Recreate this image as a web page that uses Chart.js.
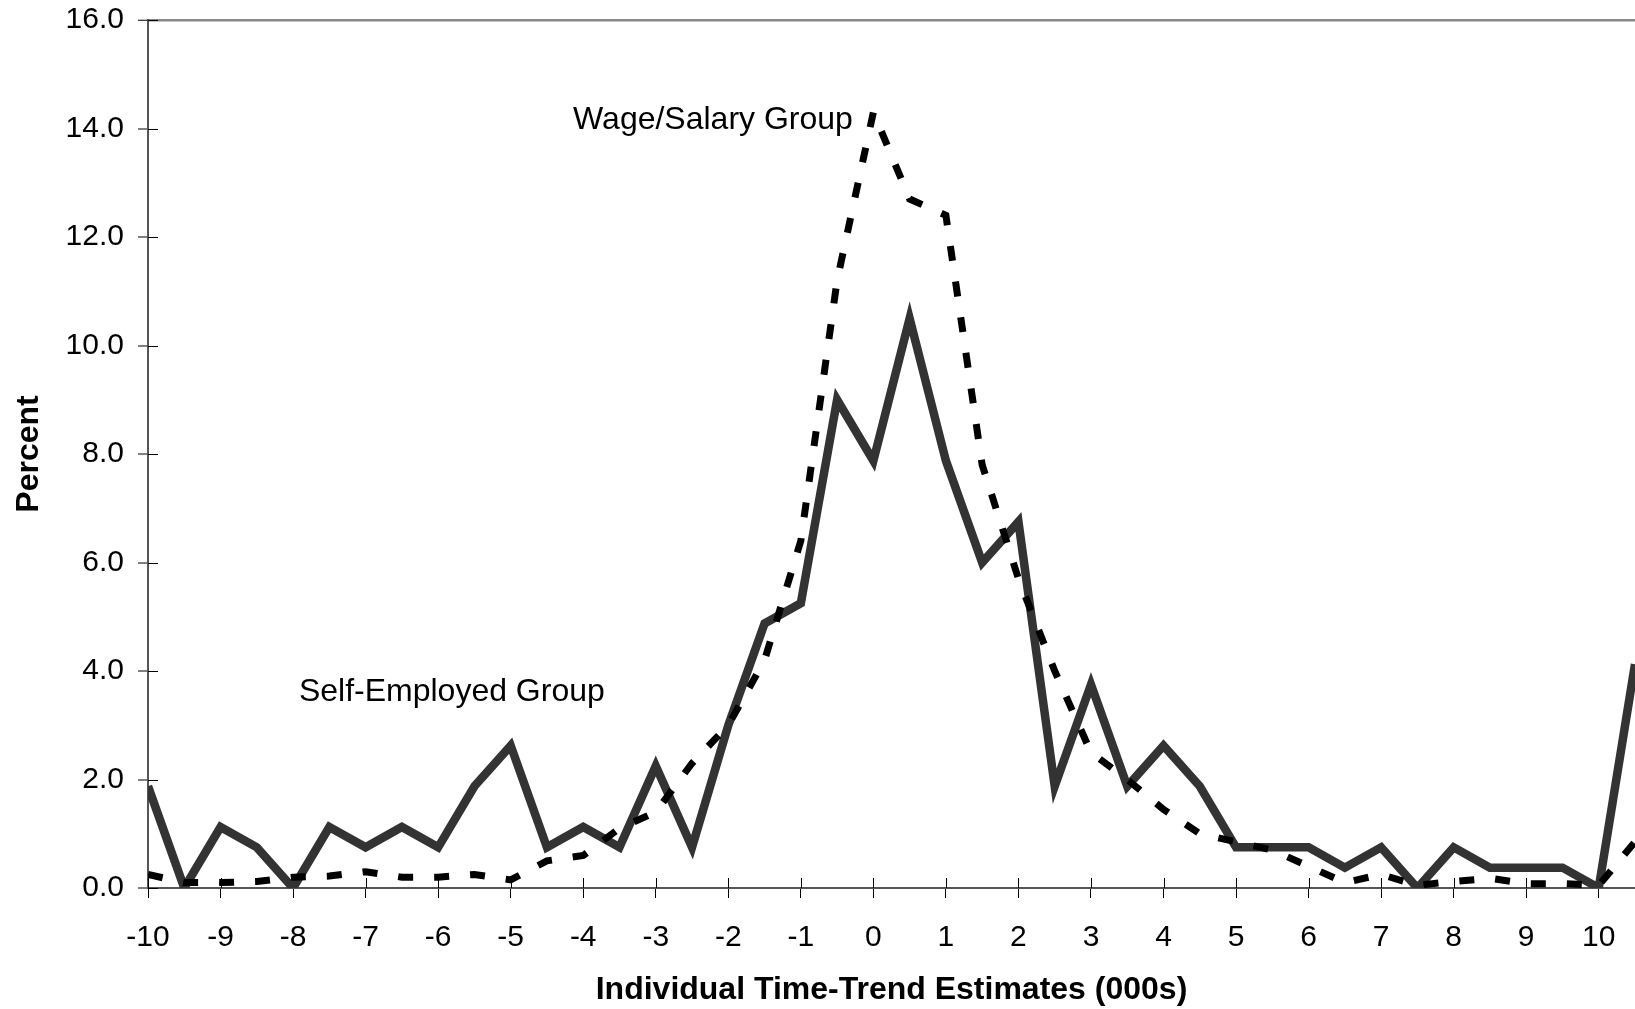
<!DOCTYPE html>
<html>
<head>
<meta charset="utf-8">
<script src="https://cdn.jsdelivr.net/npm/chart.js@4.4.1/dist/chart.umd.min.js"></script>
<style>
  html, body { margin: 0; padding: 0; background: #fff; }
  #wrap { width: 1635px; height: 1009px; }
</style>
</head>
<body>
<div id="wrap"><canvas id="chart" width="1635" height="1009"></canvas></div>
<script>
// individual time-trend estimates (000s), one point every 0.5
const trendValues = [
  -10, -9.5, -9, -8.5, -8, -7.5, -7, -6.5, -6, -5.5, -5, -4.5, -4, -3.5,
  -3, -2.5, -2, -1.5, -1, -0.5, 0, 0.5, 1, 1.5, 2, 2.5, 3, 3.5,
  4, 4.5, 5, 5.5, 6, 6.5, 7, 7.5, 8, 8.5, 9, 9.5, 10, 10.5
];

// percent of each group
const selfEmployed = [
  1.875, 0, 1.125, 0.75, 0, 1.125, 0.75, 1.125, 0.75, 1.875, 2.625, 0.75, 1.125, 0.75,
  2.25, 0.75, 3.0, 4.875, 5.25, 9.0, 7.875, 10.5, 7.875, 6.0, 6.75, 1.875, 3.75, 1.875,
  2.625, 1.875, 0.75, 0.75, 0.75, 0.375, 0.75, 0, 0.75, 0.375, 0.375, 0.375, 0, 4.125
];
const wageSalary = [
  0.25, 0.1, 0.1, 0.12, 0.2, 0.22, 0.3, 0.2, 0.2, 0.25, 0.15, 0.5, 0.6, 1.1,
  1.4, 2.3, 3.0, 4.2, 6.4, 11.2, 14.3, 12.7, 12.4, 7.8, 5.7, 4.0, 2.5, 2.0,
  1.45, 1.0, 0.85, 0.7, 0.4, 0.1, 0.25, 0.05, 0.12, 0.18, 0.08, 0.08, 0.05, 0.85
];

const xTickValues = [-10, -9, -8, -7, -6, -5, -4, -3, -2, -1, 0, 1, 2, 3, 4, 5, 6, 7, 8, 9, 10];
const yTickValues = [0, 2, 4, 6, 8, 10, 12, 14, 16];

const seriesNames = ['Self-Employed Group', 'Wage/Salary Group'];
// where the series names sit, in data units (left edge, baseline)
const nameAnchors = [
  { text: seriesNames[0], x: -7.92, y: 3.44 },
  { text: seriesNames[1], x: -4.14, y: 14.0 }
];

const family = '"Liberation Sans", Arial, sans-serif';

const toPoints = (ys) => trendValues.map((x, i) => ({ x, y: ys[i] }));

// tick marks in the reference cross the axis, chart.js only draws the outer half
const crossTicks = {
  id: 'crossTicks',
  beforeDatasetsDraw(chart) {
    const { ctx, chartArea, scales: { x, y } } = chart;
    ctx.save();
    ctx.strokeStyle = '#000';
    ctx.lineWidth = 1;
    ctx.beginPath();
    x.ticks.forEach((t) => {
      const px = Math.round(x.getPixelForValue(t.value)) + 0.5;
      ctx.moveTo(px, chartArea.bottom);
      ctx.lineTo(px, chartArea.bottom - 10);
    });
    y.ticks.forEach((t) => {
      const py = Math.round(y.getPixelForValue(t.value)) + 0.5;
      ctx.moveTo(chartArea.left, py);
      ctx.lineTo(chartArea.left + 10, py);
    });
    ctx.stroke();
    ctx.restore();
  }
};

const seriesLabels = {
  id: 'seriesLabels',
  afterDatasetsDraw(chart) {
    const { ctx, scales: { x, y } } = chart;
    ctx.save();
    ctx.font = '32px ' + family;
    ctx.fillStyle = '#000';
    ctx.textAlign = 'left';
    ctx.textBaseline = 'alphabetic';
    nameAnchors.forEach((a) => {
      ctx.fillText(a.text, x.getPixelForValue(a.x), y.getPixelForValue(a.y));
    });
    ctx.restore();
  }
};

new Chart(document.getElementById('chart'), {
  type: 'line',
  data: {
    datasets: [
      {
        label: seriesNames[1],
        data: toPoints(wageSalary),
        borderColor: '#000',
        borderWidth: 7,
        borderDash: [15, 21],
        pointRadius: 0,
        tension: 0,
        fill: false,
        order: 0
      },
      {
        label: seriesNames[0],
        data: toPoints(selfEmployed),
        borderColor: '#333',
        borderWidth: 8.5,
        pointRadius: 0,
        tension: 0,
        fill: false,
        order: 1
      }
    ]
  },
  options: {
    responsive: false,
    animation: false,
    layout: { padding: { top: 20, right: 0, bottom: 0, left: 0 } },
    plugins: {
      legend: { display: false },
      tooltip: { enabled: false }
    },
    scales: {
      x: {
        type: 'linear',
        min: -10,
        max: 10.5,
        afterBuildTicks: (s) => { s.ticks = xTickValues.map((v) => ({ value: v })); },
        afterFit: (s) => { s.height = 121; s.paddingLeft = 0; s.paddingRight = 0; },
        ticks: {
          color: '#000',
          font: { family, size: 30 },
          padding: 22,
          autoSkip: false,
          maxRotation: 0,
          callback: (v) => String(v)
        },
        grid: { drawOnChartArea: false, tickLength: 10, tickColor: '#000', tickWidth: 1 },
        border: { color: '#555', width: 2 },
        title: {
          display: true,
          text: 'Individual Time-Trend Estimates (000s)',
          color: '#000',
          font: { family, size: 32, weight: 'bold' },
          padding: { top: 0, bottom: 0 }
        }
      },
      y: {
        min: 0,
        max: 16,
        afterBuildTicks: (s) => { s.ticks = yTickValues.map((v) => ({ value: v })); },
        afterFit: (s) => { s.width = 148; s.paddingTop = 0; s.paddingBottom = 0; },
        ticks: {
          color: '#000',
          font: { family, size: 30 },
          padding: 14,
          callback: (v) => v.toFixed(1)
        },
        grid: {
          drawOnChartArea: true,
          // only the top line (16.0) is visible inside the plot
          color: (c) => (c.tick && c.tick.value === 16 ? '#888' : 'rgba(0,0,0,0)'),
          lineWidth: (c) => (c.tick && c.tick.value === 16 ? 2.5 : 0),
          tickLength: 10,
          tickColor: '#000',
          tickWidth: 1
        },
        border: { color: '#555', width: 2 },
        title: {
          display: true,
          text: 'Percent',
          color: '#000',
          font: { family, size: 32, weight: 'bold' },
          padding: { top: 10, bottom: 0 }
        }
      }
    }
  },
  plugins: [crossTicks, seriesLabels]
});
</script>
</body>
</html>
